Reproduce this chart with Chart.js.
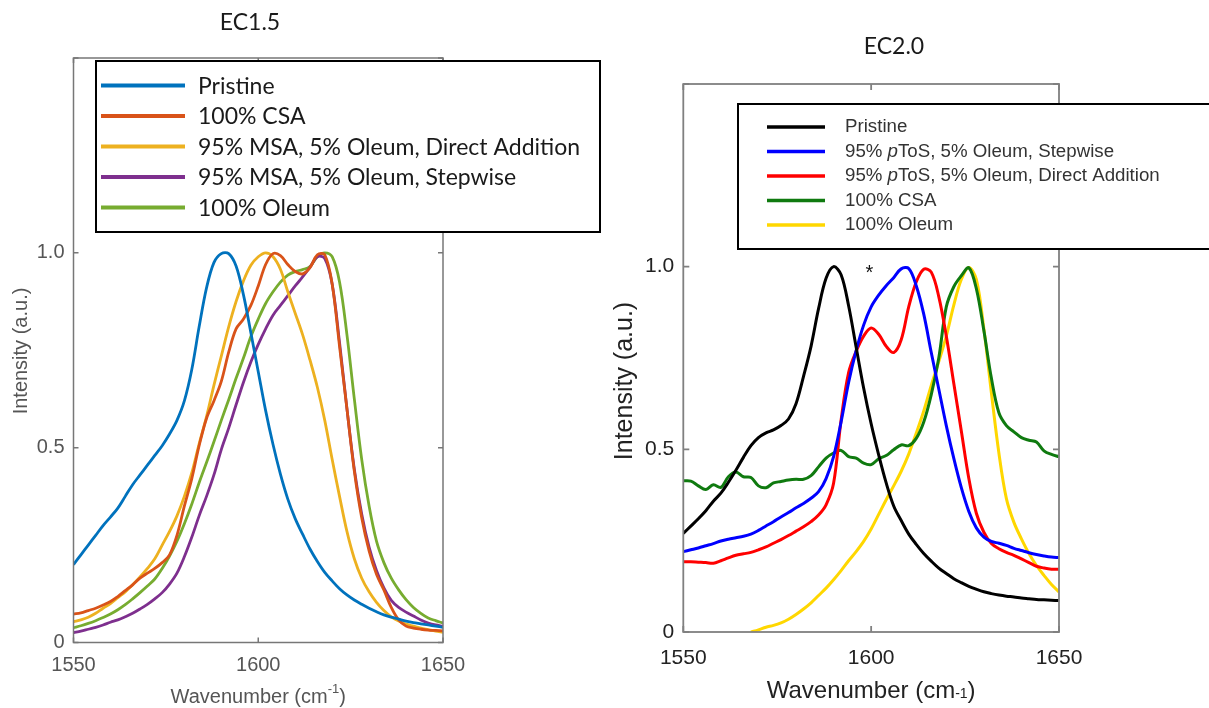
<!DOCTYPE html>
<html>
<head>
<meta charset="utf-8">
<title>Raman G-band spectra, EC1.5 and EC2.0</title>
<script src="https://cdn.jsdelivr.net/npm/chart.js@4.4.1/dist/chart.umd.min.js"></script>
<style>
  html, body { margin: 0; padding: 0; background: #fff; }
  body { width: 1209px; height: 708px; position: relative; overflow: hidden; }
  canvas { position: absolute; top: 0; }
  #ec15 { left: 0; }
  #ec20 { left: 610px; }
</style>
</head>
<body>
<canvas id="ec15" width="610" height="708"></canvas>
<canvas id="ec20" width="599" height="708"></canvas>
<script>
// wavenumber grid shared by every spectrum (cm^-1)
const wavenumbers = [
  1550, 1552, 1554, 1556, 1558, 1560, 1562, 1564, 1566, 1568, 1570, 1572, 1574,
  1576, 1578, 1580, 1582, 1584, 1586, 1588, 1590, 1592, 1594, 1596, 1598,
  1600, 1602, 1604, 1606, 1608, 1610, 1612, 1614, 1616, 1618, 1620, 1622, 1624,
  1626, 1628, 1630, 1632, 1634, 1636, 1638, 1640, 1642, 1644, 1646, 1648, 1650
];

// EC1.5 normalised intensities
const ec15Pristine = [
  0.2, 0.225, 0.25, 0.275, 0.3, 0.322, 0.345, 0.375, 0.405, 0.43, 0.455, 0.48, 0.505,
  0.535, 0.57, 0.62, 0.7, 0.81, 0.91, 0.975, 0.998, 0.998, 0.966, 0.892, 0.795,
  0.695, 0.595, 0.508, 0.432, 0.368, 0.318, 0.278, 0.24, 0.208, 0.18, 0.158, 0.138, 0.122,
  0.109, 0.098, 0.088, 0.079, 0.071, 0.065, 0.06, 0.055, 0.051, 0.048, 0.045, 0.042, 0.039
];
const ec15Csa = [
  0.073, 0.076, 0.082, 0.088, 0.096, 0.105, 0.118, 0.133, 0.148, 0.165, 0.178, 0.19, 0.205,
  0.225, 0.275, 0.35, 0.42, 0.505, 0.575, 0.62, 0.67, 0.745, 0.805, 0.83, 0.865,
  0.915, 0.97, 0.998, 0.993, 0.97, 0.952, 0.946, 0.962, 0.995, 0.995, 0.92, 0.76, 0.6,
  0.44, 0.32, 0.235, 0.175, 0.135, 0.09, 0.058, 0.042, 0.037, 0.034, 0.032, 0.031, 0.03
];
const ec15MsaDirect = [
  0.053, 0.058, 0.065, 0.075, 0.088, 0.1, 0.115, 0.13, 0.148, 0.168, 0.19, 0.215, 0.25,
  0.285, 0.325, 0.375, 0.435, 0.51, 0.58, 0.66, 0.735, 0.81, 0.875, 0.928, 0.968,
  0.99, 1.0, 0.99, 0.958, 0.9, 0.845, 0.79, 0.725, 0.655, 0.57, 0.47, 0.375, 0.285,
  0.215, 0.165, 0.13, 0.103, 0.082, 0.066, 0.055, 0.047, 0.042, 0.037, 0.033, 0.029, 0.026
];
const ec15MsaStepwise = [
  0.025, 0.029, 0.034, 0.039, 0.045, 0.052, 0.058, 0.066, 0.075, 0.086, 0.098, 0.112, 0.128,
  0.15, 0.178, 0.22, 0.27, 0.325, 0.375, 0.43, 0.495, 0.55, 0.61, 0.668, 0.72,
  0.765, 0.805, 0.84, 0.865, 0.89, 0.915, 0.938, 0.963, 0.99, 0.985, 0.92, 0.77, 0.6,
  0.445, 0.33, 0.245, 0.185, 0.14, 0.108, 0.09, 0.078, 0.068, 0.058, 0.05, 0.045, 0.042
];
const ec15Oleum = [
  0.038, 0.043, 0.049, 0.056, 0.064, 0.073, 0.084, 0.097, 0.112, 0.128, 0.145, 0.163, 0.19,
  0.222, 0.26, 0.305, 0.355, 0.41, 0.462, 0.515, 0.57, 0.623, 0.678, 0.73, 0.785,
  0.83, 0.87, 0.9, 0.925, 0.943, 0.952, 0.957, 0.965, 0.99, 1.0, 0.99, 0.925, 0.79,
  0.625, 0.47, 0.35, 0.26, 0.205, 0.165, 0.135, 0.11, 0.09, 0.075, 0.063, 0.056, 0.05
];

// EC2.0 normalised intensities
const ec20Pristine = [
  0.27, 0.29, 0.31, 0.332, 0.358, 0.38, 0.41, 0.443, 0.478, 0.51, 0.532, 0.545, 0.553,
  0.565, 0.583, 0.625, 0.7, 0.782, 0.885, 0.968, 1.0, 0.978, 0.893, 0.78, 0.668,
  0.57, 0.485, 0.408, 0.345, 0.305, 0.268, 0.24, 0.215, 0.194, 0.175, 0.16, 0.146, 0.135,
  0.125, 0.117, 0.11, 0.105, 0.101, 0.098, 0.096, 0.093, 0.091, 0.089, 0.088, 0.087, 0.086
];
const ec20TosStepwise = [
  0.22, 0.225, 0.23, 0.236, 0.242, 0.249, 0.254, 0.258, 0.262, 0.268, 0.278, 0.29, 0.302,
  0.315, 0.327, 0.34, 0.352, 0.366, 0.384, 0.42, 0.48, 0.575, 0.683, 0.77, 0.84,
  0.89, 0.922, 0.948, 0.97, 0.994, 0.995, 0.948, 0.87, 0.765, 0.665, 0.565, 0.475, 0.395,
  0.33, 0.285, 0.26, 0.248, 0.243, 0.237, 0.229, 0.223, 0.217, 0.212, 0.208, 0.205, 0.204
];
const ec20TosDirect = [
  0.192, 0.192, 0.191, 0.19, 0.188, 0.195, 0.203, 0.21, 0.214, 0.218, 0.225, 0.233, 0.243,
  0.253, 0.264, 0.276, 0.288, 0.302, 0.32, 0.348, 0.407, 0.58, 0.71, 0.768, 0.81,
  0.832, 0.815, 0.782, 0.765, 0.8, 0.89, 0.958, 0.993, 0.985, 0.918, 0.81, 0.68, 0.55,
  0.42, 0.325, 0.273, 0.242, 0.228, 0.218, 0.21, 0.2, 0.19, 0.18, 0.175, 0.172, 0.172
];
const ec20Csa = [
  0.414, 0.413, 0.4, 0.39, 0.403, 0.396, 0.425, 0.438, 0.425, 0.423, 0.4, 0.395, 0.408,
  0.412, 0.416, 0.418, 0.418, 0.428, 0.452, 0.476, 0.49, 0.497, 0.48, 0.476, 0.462,
  0.458, 0.474, 0.483, 0.499, 0.512, 0.51, 0.53, 0.575, 0.65, 0.75, 0.89, 0.945, 0.975,
  0.997, 0.94, 0.825, 0.695, 0.6, 0.565, 0.548, 0.532, 0.525, 0.52, 0.496, 0.486, 0.48
];
const ec20Oleum = [
  null, null, null, null, null, null, null, null, null, 0.0, 0.006, 0.013, 0.018,
  0.025, 0.035, 0.048, 0.063, 0.08, 0.1, 0.12, 0.143, 0.168, 0.195, 0.22, 0.248,
  0.282, 0.322, 0.362, 0.4, 0.44, 0.487, 0.544, 0.605, 0.675, 0.74, 0.81, 0.895, 0.965,
  0.998, 0.965, 0.83, 0.655, 0.49, 0.365, 0.3, 0.255, 0.215, 0.182, 0.155, 0.13, 0.11
];

const ec15Labels = ['Pristine', '100% CSA', '95% MSA, 5% Oleum, Direct Addition',
  '95% MSA, 5% Oleum, Stepwise', '100% Oleum'];
const ec20Labels = ['Pristine', '95% pToS, 5% Oleum, Stepwise', '95% pToS, 5% Oleum, Direct Addition',
  '100% CSA', '100% Oleum'];

const sansFont = '"Liberation Sans", Arial, sans-serif';

// text with a small raised/lowered "-1" part
function drawScripted(ctx, t, cx, cy) {
  const big = t.size + 'px ' + sansFont;
  const small = Math.round(t.size * t.scriptScale) + 'px ' + sansFont;
  ctx.font = big;
  const w1 = ctx.measureText(t.base).width;
  const w3 = ctx.measureText(t.tail).width;
  ctx.font = small;
  const w2 = ctx.measureText(t.script).width;
  let x = cx - (w1 + w2 + w3) / 2;
  ctx.textAlign = 'left';
  ctx.textBaseline = 'middle';
  ctx.fillStyle = t.color;
  ctx.font = big;
  ctx.fillText(t.base, x, cy);
  x += w1;
  ctx.font = small;
  ctx.fillText(t.script, x, cy + t.size * t.shift);
  x += w2;
  ctx.font = big;
  ctx.fillText(t.tail, x, cy);
}

// legend labels may carry an italic "p" (pToS)
function drawLabel(ctx, text, x, y, font) {
  const k = text.indexOf('pToS');
  if (k < 0) {
    ctx.font = font;
    ctx.fillText(text, x, y);
    return;
  }
  const parts = [[text.slice(0, k), font], ['p', 'italic ' + font], [text.slice(k + 1), font]];
  parts.forEach(([s, f]) => {
    ctx.font = f;
    ctx.fillText(s, x, y);
    x += ctx.measureText(s).width;
  });
}

const panelDecor = {
  id: 'panelDecor',
  afterDraw(chart, args, o) {
    const { ctx, chartArea: a, scales: { x, y } } = chart;
    ctx.save();

    // axes box
    ctx.strokeStyle = o.axisColor;
    ctx.lineWidth = o.axisWidth;
    ctx.strokeRect(a.left, a.top, a.right - a.left, a.bottom - a.top);

    // tick marks pointing into the plot on all four sides
    ctx.beginPath();
    x.ticks.forEach(t => {
      const px = x.getPixelForValue(t.value);
      ctx.moveTo(px, a.bottom); ctx.lineTo(px, a.bottom - o.tickLen);
      ctx.moveTo(px, a.top); ctx.lineTo(px, a.top + o.tickLen);
    });
    y.ticks.forEach(t => {
      const py = y.getPixelForValue(t.value);
      ctx.moveTo(a.left, py); ctx.lineTo(a.left + o.tickLen, py);
      ctx.moveTo(a.right, py); ctx.lineTo(a.right - o.tickLen, py);
    });
    ctx.stroke();

    // peak marker
    if (o.mark) {
      ctx.fillStyle = '#111';
      ctx.font = o.mark.font;
      ctx.textAlign = 'center';
      ctx.textBaseline = 'alphabetic';
      ctx.fillText(o.mark.text, x.getPixelForValue(o.mark.x), y.getPixelForValue(o.mark.y) + o.mark.dy);
    }

    // axis titles
    drawScripted(ctx, o.xTitle, (a.left + a.right) / 2, o.xTitle.y);
    ctx.save();
    ctx.translate(o.yTitle.x, o.yTitle.y);
    ctx.rotate(-Math.PI / 2);
    ctx.font = o.yTitle.size + 'px ' + sansFont;
    ctx.fillStyle = o.yTitle.color;
    ctx.textAlign = 'center';
    ctx.textBaseline = 'middle';
    ctx.fillText(o.yTitle.text, 0, 0);
    ctx.restore();

    // panel title
    ctx.font = o.title.font;
    ctx.fillStyle = '#1a1a1a';
    ctx.textAlign = 'center';
    ctx.textBaseline = 'middle';
    ctx.fillText(o.title.text, o.title.x, o.title.y);

    // legend box
    const L = o.legend;
    ctx.fillStyle = '#fff';
    ctx.fillRect(L.x, L.y, L.w, L.h);
    ctx.strokeStyle = '#000';
    ctx.lineWidth = 2;
    ctx.strokeRect(L.x, L.y, L.w, L.h);
    ctx.textAlign = 'left';
    ctx.textBaseline = 'middle';
    chart.data.datasets.forEach((ds, i) => {
      const ry = L.row0 + i * L.rowGap;
      ctx.strokeStyle = ds.borderColor;
      ctx.lineWidth = L.sampleWidth;
      ctx.beginPath();
      ctx.moveTo(L.sample0, ry);
      ctx.lineTo(L.sample1, ry);
      ctx.stroke();
      ctx.fillStyle = L.color;
      drawLabel(ctx, ds.label, L.textX, ry + L.textDy, L.font);
    });

    ctx.restore();
  }
};

function makeChart(canvasId, series, cfg) {
  return new Chart(document.getElementById(canvasId), {
    type: 'line',
    data: {
      datasets: series.map(s => ({
        label: s.label,
        data: wavenumbers.map((w, i) => ({ x: w, y: s.values[i] })),
        borderColor: s.color,
        borderWidth: cfg.lineWidth,
        pointRadius: 0,
        tension: 0.35,
        fill: false
      }))
    },
    options: {
      responsive: false,
      animation: false,
      events: [],
      layout: { padding: cfg.padding },
      plugins: {
        legend: { display: false },
        tooltip: { enabled: false },
        panelDecor: cfg.decor
      },
      scales: {
        x: {
          type: 'linear',
          min: 1550,
          max: 1650,
          grid: { display: false, drawTicks: false },
          border: { display: false },
          ticks: {
            stepSize: 50,
            maxRotation: 0,
            padding: cfg.xTickPad,
            color: cfg.tickColor,
            font: { family: sansFont, size: cfg.tickSize },
            callback: v => String(v)
          },
          afterFit: s => { s.height = cfg.xHeight; }
        },
        y: {
          min: 0,
          max: 1.5,
          grid: { display: false, drawTicks: false },
          border: { display: false },
          ticks: {
            stepSize: 0.5,
            padding: cfg.yTickPad,
            color: cfg.tickColor,
            font: { family: sansFont, size: cfg.tickSize },
            callback: v => (v === 1.5 ? '' : v === 0 ? '0' : v.toFixed(1))
          },
          afterFit: s => { s.width = cfg.yWidth; }
        }
      }
    },
    plugins: [panelDecor]
  });
}

makeChart('ec15', [
  { label: ec15Labels[0], values: ec15Pristine, color: '#0072BD' },
  { label: ec15Labels[1], values: ec15Csa, color: '#D95319' },
  { label: ec15Labels[2], values: ec15MsaDirect, color: '#EDB120' },
  { label: ec15Labels[3], values: ec15MsaStepwise, color: '#7E2F8E' },
  { label: ec15Labels[4], values: ec15Oleum, color: '#77AC30' }
], {
  lineWidth: 2.8,
  padding: { top: 58, right: 167, left: 0, bottom: 0 },
  xHeight: 65.5,
  yWidth: 73.5,
  xTickPad: 11,
  yTickPad: 9,
  tickSize: 20,
  tickColor: '#555',
  decor: {
    axisColor: '#777',
    axisWidth: 1.5,
    tickLen: 5,
    title: { text: 'EC1.5', x: 250, y: 23, font: '23px Lato, sans-serif' },
    xTitle: { base: 'Wavenumber (cm', script: '-1', tail: ')', size: 20, scriptScale: 0.65, shift: -0.38, y: 697, color: '#555' },
    yTitle: { text: 'Intensity (a.u.)', size: 20, x: 21, y: 351, color: '#555' },
    legend: {
      x: 96, y: 61, w: 504, h: 171,
      row0: 85.5, rowGap: 30.5,
      sample0: 101, sample1: 185, sampleWidth: 4,
      textX: 198, textDy: 1,
      font: '23px Lato, sans-serif', color: '#1a1a1a'
    }
  }
});

makeChart('ec20', [
  { label: ec20Labels[0], values: ec20Pristine, color: '#000000' },
  { label: ec20Labels[1], values: ec20TosStepwise, color: '#0000FF' },
  { label: ec20Labels[2], values: ec20TosDirect, color: '#FF0000' },
  { label: ec20Labels[3], values: ec20Csa, color: '#0f7a0f' },
  { label: ec20Labels[4], values: ec20Oleum, color: '#FFD700' }
], {
  lineWidth: 3,
  padding: { top: 84, right: 150, left: 0, bottom: 0 },
  xHeight: 76,
  yWidth: 73.3,
  xTickPad: 14,
  yTickPad: 9,
  tickSize: 21,
  tickColor: '#222',
  decor: {
    axisColor: '#808080',
    axisWidth: 1.8,
    tickLen: 6,
    mark: { text: '*', x: 1599.5, y: 1.0, dy: 12, font: '20px ' + sansFont },
    title: { text: 'EC2.0', x: 284, y: 47, font: '23px Lato, sans-serif' },
    xTitle: { base: 'Wavenumber (cm', script: '-1', tail: ')', size: 24, scriptScale: 0.6, shift: 0.12, y: 691.5, color: '#222' },
    yTitle: { text: 'Intensity (a.u.)', size: 25, x: 15, y: 381, color: '#222' },
    legend: {
      x: 128, y: 104, w: 640, h: 145,
      row0: 127, rowGap: 24.5,
      sample0: 157, sample1: 215, sampleWidth: 3.5,
      textX: 235, textDy: 0,
      font: '18.7px ' + sansFont, color: '#333'
    }
  }
});
</script>
</body>
</html>
